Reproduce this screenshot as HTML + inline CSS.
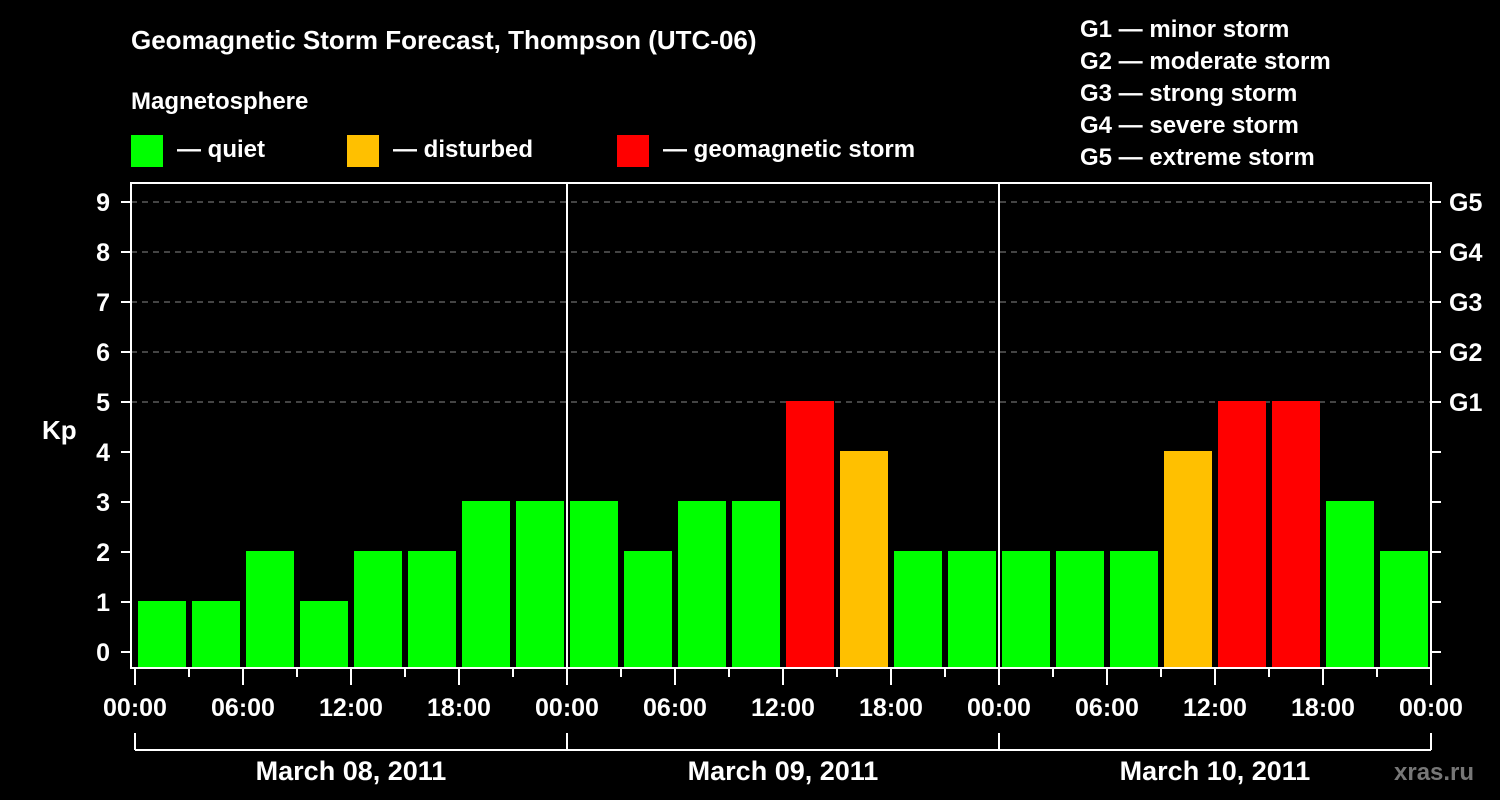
<!DOCTYPE html>
<html><head><meta charset="utf-8"><style>
html,body{margin:0;padding:0;background:#000;width:1500px;height:800px;overflow:hidden}
svg text{font-family:"Liberation Sans",Arial,sans-serif;font-weight:bold;fill:#fff}
</style></head><body>
<svg id="chart" width="1500" height="800" xmlns="http://www.w3.org/2000/svg">
<text x="131" y="49" font-size="26">Geomagnetic Storm Forecast, Thompson (UTC-06)</text>
<text x="131" y="109" font-size="24">Magnetosphere</text>
<g><rect x="131" y="135" width="32" height="32" fill="#00ff00"/><text x="177" y="157" font-size="24">— quiet</text></g>
<g><rect x="347" y="135" width="32" height="32" fill="#ffc000"/><text x="393" y="157" font-size="24">— disturbed</text></g>
<g><rect x="617" y="135" width="32" height="32" fill="#ff0000"/><text x="663" y="157" font-size="24">— geomagnetic storm</text></g>
<g font-size="24">
<text x="1080" y="37">G1 — minor storm</text>
<text x="1080" y="69">G2 — moderate storm</text>
<text x="1080" y="101">G3 — strong storm</text>
<text x="1080" y="133">G4 — severe storm</text>
<text x="1080" y="165">G5 — extreme storm</text>
</g>
<text x="42" y="439" font-size="26">Kp</text>
<text x="1394" y="780" font-size="24" fill="#777" style="fill:#777">xras.ru</text>
<g id="grid"></g><g id="bars"></g><g id="axes"></g>
</svg>
<script>
const kpValues=[1,1,2,1,2,2,3,3, 3,2,3,3,5,4,2,2, 2,2,2,4,5,5,3,2];
const dayLabels=["March 08, 2011","March 09, 2011","March 10, 2011"];
const hourLabels=["00:00","06:00","12:00","18:00"];
const kpTicks=[0,1,2,3,4,5,6,7,8,9];
const gLabels=["G1","G2","G3","G4","G5"];
const NS="http://www.w3.org/2000/svg";
const x0=135,slot=54,y0=652,unit=50,plotTop=183,plotBot=668,plotRight=1431;
const xs=i=>x0+i*slot, ys=v=>y0-v*unit;
function mk(t,a,p){const e=document.createElementNS(NS,t);for(const k in a)e.setAttribute(k,a[k]);p.appendChild(e);return e;}
const grid=document.getElementById('grid'),bars=document.getElementById('bars'),axes=document.getElementById('axes');
kpTicks.forEach(v=>{
  if(v>=5){const l=mk('line',{x1:131,x2:plotRight,y1:ys(v),y2:ys(v),stroke:'#888','stroke-dasharray':'6,5','stroke-width':1},grid);
  
  }
  mk('line',{x1:121,x2:131,y1:ys(v),y2:ys(v),stroke:'#fff','stroke-width':2},axes);
  mk('line',{x1:plotRight,x2:plotRight+10,y1:ys(v),y2:ys(v),stroke:'#fff','stroke-width':2},axes);
  const t=mk('text',{x:110,y:ys(v)+9,'font-size':25,'text-anchor':'end'},axes);t.textContent=v;
  
  
});
gLabels.forEach((g,i)=>{const t=mk('text',{x:1449,y:ys(5+i)+9,'font-size':25},axes);t.textContent=g;
  
  });
kpValues.forEach((v,i)=>{
  const c=v>=5?'#ff0000':(v>=4?'#ffc000':'#00ff00');
  const top=ys(v)-1;
  const r=mk('rect',{x:xs(i)+3,y:top,width:48,height:plotBot-top,fill:c},bars);
  
  
});
// frame
mk('rect',{x:131,y:plotTop,width:plotRight-131,height:plotBot-plotTop,fill:'none',stroke:'#fff','stroke-width':2},axes);
for(let d=1;d<3;d++) mk('line',{x1:xs(d*8),x2:xs(d*8),y1:plotTop,y2:plotBot,stroke:'#fff','stroke-width':2},axes);
for(let i=0;i<=24;i++){
  const major=i%2==0;
  mk('line',{x1:xs(i),x2:xs(i),y1:plotBot,y2:major?685:677,stroke:'#fff','stroke-width':2},axes);
  if(major){const t=mk('text',{x:xs(i),y:716,'font-size':25,'text-anchor':'middle'},axes);t.textContent=hourLabels[(i/2)%4];
  
  }
}
mk('line',{x1:xs(0),x2:xs(24),y1:750,y2:750,stroke:'#fff','stroke-width':2},axes);
for(let d=0;d<=3;d++) mk('line',{x1:xs(d*8),x2:xs(d*8),y1:733,y2:750,stroke:'#fff','stroke-width':2},axes);
dayLabels.forEach((l,d)=>{const t=mk('text',{x:xs(d*8+4),y:780,'font-size':27,'text-anchor':'middle'},axes);t.textContent=l;
  
  });
</script>
</body></html>
